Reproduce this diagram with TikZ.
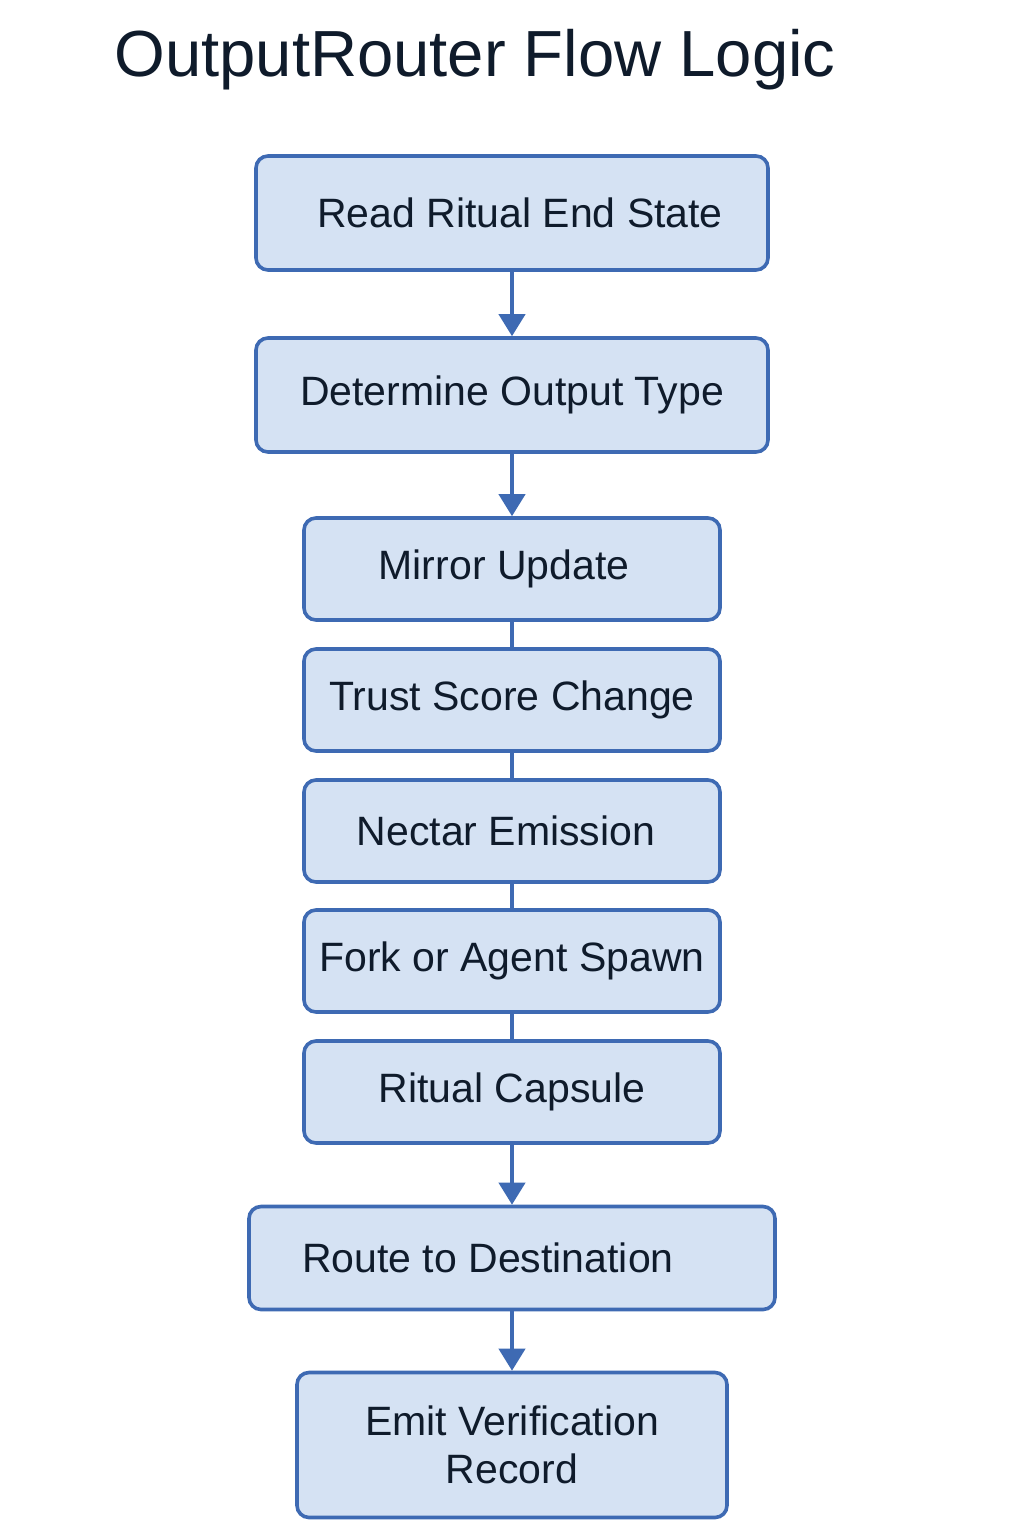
\documentclass[tikz,border=0pt]{standalone}
\usepackage{fontspec}
\setmainfont{Liberation Sans}
\usetikzlibrary{arrows.meta}
\definecolor{boxfill}{HTML}{D5E2F3}
\definecolor{boxline}{HTML}{3E6AB3}
\definecolor{inktext}{HTML}{0F1B2B}
\tikzstyle{step box}=[draw=boxline, fill=boxfill, line width=1.8pt, rounded corners=6pt, text=inktext, font=\fontsize{20.5}{24}\selectfont, align=center, inner sep=0pt]
\tikzstyle{wide box}=[step box, minimum width=256pt, minimum height=57pt]
\tikzstyle{mid box}=[step box, minimum width=208pt, minimum height=51pt]
\tikzstyle{flow arrow}=[draw=boxline, line width=2pt, -{Triangle[width=13pt, length=11pt]}]
\tikzstyle{flow line}=[draw=boxline, line width=2pt]

\begin{document}
\begin{tikzpicture}[x=0.5pt, y=-0.5pt]
      \useasboundingbox[fill=white] (0, 0) rectangle (1024, 1536);
      \node[anchor=base west, inner sep=0pt, text=inktext, font=\fontsize{32.6}{40}\selectfont] (title) at (114, 77) {OutputRouter Flow Logic};
      \node[wide box] (read) at (512, 213) {\hspace*{8pt}Read Ritual End State};
      \node[wide box] (type) at (512, 395) {Determine Output Type};
      \node[mid box] (mirror) at (512, 569) {Mirror Update\hspace*{8pt}};
      \node[mid box] (trust) at (512, 700) {Trust Score Change};
      \node[mid box] (nectar) at (512, 831) {Nectar Emission\hspace*{6pt}};
      \node[mid box] (fork) at (512, 961) {Fork or Agent Spawn};
      \node[mid box] (capsule) at (512, 1092) {Ritual Capsule};
      \node[step box, minimum width=263pt, minimum height=51.5pt] (route) at (512, 1258) {Route to Destination\hspace*{24pt}};
      \node[step box, minimum width=215pt, minimum height=72.5pt] (emit) at (512, 1445) {Emit Verification\\Record};
      % arrows into and out of the type list
      \draw[flow arrow] (read) -- (type);
      \draw[flow arrow] (type) -- (mirror);
      \draw[flow line] (mirror) -- (trust);
      \draw[flow line] (trust) -- (nectar);
      \draw[flow line] (nectar) -- (fork);
      \draw[flow line] (fork) -- (capsule);
      \draw[flow arrow] (capsule) -- (route);
      \draw[flow arrow] (route) -- (emit);
    \end{tikzpicture}
\end{document}
